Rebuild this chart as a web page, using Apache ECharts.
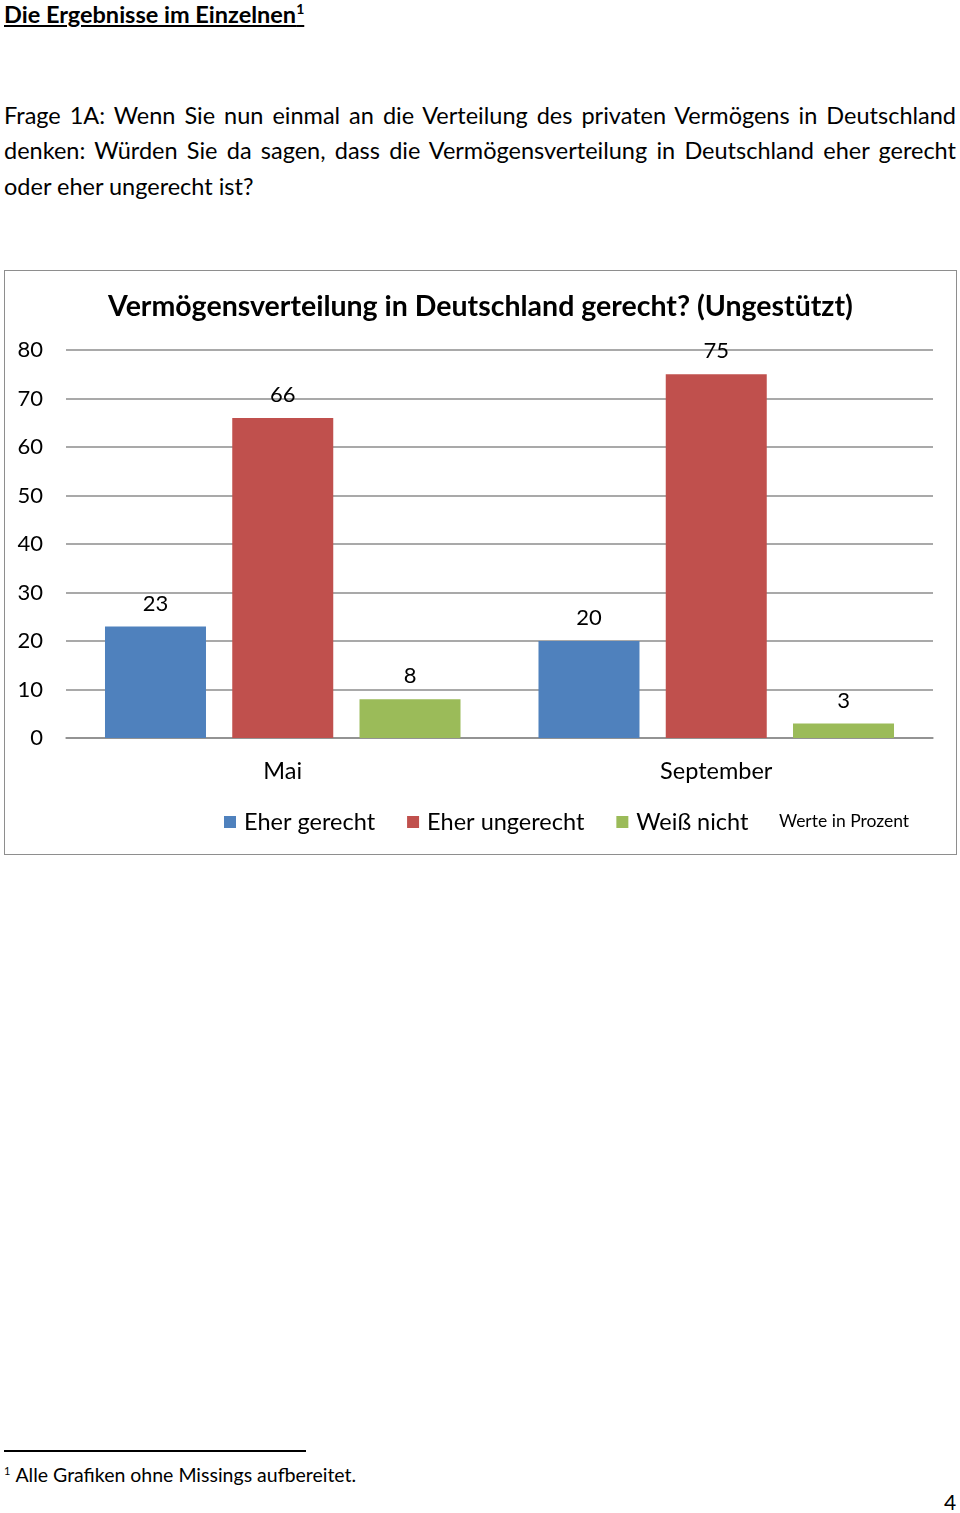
<!DOCTYPE html>
<html>
<head>
<meta charset="utf-8">
<script src="https://cdn.jsdelivr.net/npm/echarts@6/dist/echarts.min.js"></script>
<style>
  html, body { margin: 0; padding: 0; background: #fff; }
  body { width: 960px; height: 1513px; position: relative; font-family: Lato, "Open Sans", sans-serif; color: #000; overflow: hidden; }
  .heading { position: absolute; left: 4px; top: 0px; font-size: 23.5px; font-weight: bold; text-decoration: underline; white-space: nowrap; }
  .heading sup { font-size: 14px; }
  .para { position: absolute; left: 4px; top: 97.5px; width: 952px; font-size: 23.5px; line-height: 35.5px; }
  .para .j { display: block; text-align: justify; text-align-last: justify; }
  .para .l { display: block; }
  #chart { position: absolute; left: 4px; top: 270px; width: 951px; height: 583px; border: 1px solid #8e8e8e; }
  .fnline { position: absolute; left: 4px; top: 1450px; width: 302px; height: 0; border-top: 2px solid #000; }
  .fn { position: absolute; left: 4px; top: 1463px; font-size: 19.5px; white-space: nowrap; }
  .fn sup { font-size: 11px; margin-right: 5px; }
  .pg { position: absolute; left: 944px; top: 1489px; font-size: 21px; }
</style>
</head>
<body>
<div class="heading">Die Ergebnisse im Einzelnen<sup>1</sup></div>
<div class="para">
  <span class="j">Frage 1A: Wenn Sie nun einmal an die Verteilung des privaten Vermögens in Deutschland</span>
  <span class="j">denken: Würden Sie da sagen, dass die Vermögensverteilung in Deutschland eher gerecht</span>
  <span class="l">oder eher ungerecht ist?</span>
</div>
<div id="chart"></div>
<div class="fnline"></div>
<div class="fn"><sup>1</sup>Alle Grafiken ohne Missings aufbereitet.</div>
<div class="pg">4</div>
<script>
const categories = ['Mai', 'September'];
const seriesNames = ['Eher gerecht', 'Eher ungerecht', 'Weiß nicht'];
const eherGerecht = [23, 20];
const eherUngerecht = [66, 75];
const weissNicht = [8, 3];
const yTicks = [0, 10, 20, 30, 40, 50, 60, 70, 80];
const colors = ['#4F81BD', '#C0504D', '#9BBB59'];
const FONT = 'Lato, "Open Sans", sans-serif';

const chart = echarts.init(document.getElementById('chart'), null, { renderer: 'canvas' });
const values = [eherGerecht, eherUngerecht, weissNicht];
chart.setOption({
  animation: false,
  color: colors,
  textStyle: { fontFamily: FONT, color: '#000' },
  title: {
    text: 'Vermögensverteilung in Deutschland gerecht? (Ungestützt)',
    left: 'center',
    top: 16,
    textStyle: { fontFamily: FONT, fontSize: 28.5, fontWeight: 'bold', color: '#000' }
  },
  legend: {
    data: seriesNames,
    left: 214,
    top: 534,
    icon: 'rect',
    itemWidth: 12,
    itemHeight: 12,
    itemGap: 32,
    textStyle: { fontFamily: FONT, fontSize: 23.5, color: '#000', padding: [0, 0, 0, 3] }
  },
  graphic: [{
    type: 'text',
    left: 774,
    top: 541,
    style: { text: 'Werte in Prozent', fontFamily: FONT, fontSize: 17.5, fill: '#000' }
  }],
  grid: { left: 61, right: 23, top: 79, bottom: 116, containLabel: false },
  xAxis: {
    type: 'category',
    data: categories,
    axisLine: { show: true, lineStyle: { color: '#8c8c8c', width: 1.5 } },
    axisTick: { show: false },
    axisLabel: { fontFamily: FONT, fontSize: 23.5, color: '#000', margin: 21 }
  },
  yAxis: {
    type: 'value',
    min: yTicks[0],
    max: yTicks[yTicks.length - 1],
    interval: 10,
    axisLine: { show: false },
    axisTick: { show: false },
    axisLabel: { fontFamily: FONT, fontSize: 22, color: '#000', margin: 23 },
    splitLine: { show: true, lineStyle: { color: '#8c8c8c', width: 1.5 } }
  },
  series: seriesNames.map((name, i) => ({
    name: name,
    type: 'bar',
    data: values[i],
    barWidth: 101,
    barGap: '26%',
    itemStyle: { color: colors[i] },
    label: {
      show: true,
      position: 'top',
      distance: 12,
      fontFamily: FONT,
      fontSize: 22,
      color: '#000'
    }
  }))
});
</script>
</body>
</html>
